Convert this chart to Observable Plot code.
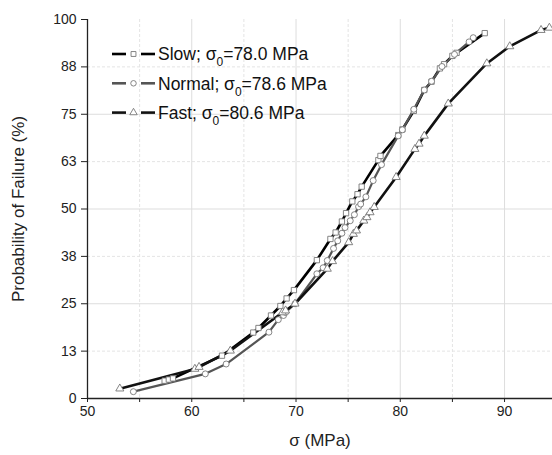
<!DOCTYPE html>
<html><head><meta charset="utf-8">
<script src="https://cdn.jsdelivr.net/npm/d3@7"></script>
<script src="https://cdn.jsdelivr.net/npm/@observablehq/plot@0.6"></script>
<style>
body{margin:0;background:#fff;font-family:"Liberation Sans",Arial,sans-serif;}
#wrap{position:relative;width:552px;height:455px;overflow:hidden;}
#wrap svg.legend{position:absolute;left:0;top:0;}
</style></head><body><div id="wrap"></div>
<script>
// Slow
const slowX = [57.4, 57.8, 58.2, 62.9, 65.9, 66.4, 67.6, 68.5, 69.1, 69.8, 72.0, 73.3, 73.8, 74.4, 74.8, 75.4, 75.9, 76.3, 77.9, 78.1, 79.8, 80.2, 81.3, 82.3, 83.0, 83.8, 84.2, 85.0, 85.4, 88.1];
const slowP = [4.7, 5.0, 5.3, 11.3, 17.4, 18.6, 21.9, 24.4, 26.4, 28.6, 36.5, 42.1, 43.8, 46.7, 48.9, 52.0, 53.9, 55.9, 62.9, 64.0, 69.5, 71.0, 75.9, 81.4, 83.6, 87.1, 88.2, 90.4, 91.2, 96.4];
// Normal
const normalX = [54.4, 61.3, 63.3, 67.4, 68.3, 68.8, 69.0, 69.9, 72.0, 72.6, 73.0, 73.6, 74.0, 74.4, 74.7, 75.2, 75.6, 76.0, 76.2, 76.7, 77.4, 78.2, 79.8, 80.2, 81.3, 82.3, 83.0, 84.0, 85.2, 86.6, 87.0];
const normalP = [1.8, 6.5, 9.1, 17.5, 20.8, 21.9, 22.7, 25.0, 32.9, 34.5, 36.4, 39.6, 41.6, 43.6, 45.1, 46.9, 48.5, 50.6, 51.3, 53.2, 57.5, 61.7, 69.3, 70.9, 76.3, 81.4, 83.7, 87.6, 90.8, 94.1, 95.2];
// Fast
const fastX = [53.1, 60.3, 60.7, 63.7, 68.7, 69.0, 69.9, 73.0, 73.5, 75.05, 75.5, 75.8, 76.5, 76.8, 77.1, 77.5, 79.6, 81.4, 81.8, 82.3, 84.6, 88.3, 90.5, 93.5, 94.3];
const fastP = [2.6, 7.8, 8.3, 12.6, 22.7, 23.2, 25.0, 34.2, 36.2, 41.2, 43.4, 44.3, 46.9, 47.8, 49.1, 50.5, 58.4, 65.8, 67.2, 69.3, 77.8, 88.4, 92.9, 97.2, 97.8];

const seriesNames = ["Slow", "Normal", "Fast"];
const sigma0 = ["78.0", "78.6", "80.6"];
const xMajor = [50, 60, 70, 80, 90];
const xMinor = [55, 65, 75, 85];
const yMajor = [0, 25, 50, 75, 100];
const yMinor = [12.5, 37.5, 62.5, 87.5];
const yTicks = [0, 12.5, 25, 37.5, 50, 62.5, 75, 87.5, 100];
const xLabel = "σ (MPa)";
const yLabel = "Probability of Failure (%)";

const styles = {
  Slow: {stroke: "#000", width: 2.6, symbol: "square"},
  Normal: {stroke: "#555", width: 2.2, symbol: "circle"},
  Fast: {stroke: "#111", width: 2.6, symbol: "triangle"}
};
const mk = (xs, ps, s) => xs.map((x, i) => ({x, p: ps[i], s}));
const series = {
  Slow: mk(slowX, slowP, "Slow"),
  Normal: mk(normalX, normalP, "Normal"),
  Fast: mk(fastX, fastP, "Fast")
};

const lines = seriesNames.map(n => Plot.line(series[n], {x: "x", y: "p", stroke: styles[n].stroke, strokeWidth: styles[n].width}));
const dots = seriesNames.map(n => Plot.dot(series[n], {x: "x", y: "p", symbol: () => styles[n].symbol, r: 3, fill: "white", stroke: "#777", strokeWidth: 0.9}));

const chart = Plot.plot({
  width: 552, height: 455,
  marginLeft: 87, marginRight: 0, marginTop: 19, marginBottom: 57,
  style: {fontFamily: '"Liberation Sans", Arial, sans-serif', color: "#222", background: "#fff"},
  x: {domain: [50, 94.6]},
  y: {domain: [0, 100]},
  symbol: {type: "identity"},
  marks: [
    Plot.gridX(xMinor, {stroke: "#e4e4e4", strokeOpacity: 1, strokeDasharray: "3,2"}),
    Plot.gridY(yMinor, {stroke: "#e4e4e4", strokeOpacity: 1, strokeDasharray: "3,2"}),
    Plot.gridX(xMajor.slice(1), {stroke: "#dddddd", strokeOpacity: 1}),
    Plot.gridY(yMajor.slice(1, 4), {stroke: "#dddddd", strokeOpacity: 1}),
    Plot.axisX({ticks: [...xMajor, ...xMinor], tickFormat: d => (d % 10 === 0 ? d : ""), tickSize: 4, tickPadding: 4, fontSize: 14, label: null, stroke: "#222"}),
    Plot.axisY({ticks: yTicks, tickFormat: d => Math.round(d), tickSize: 6, tickPadding: 5, fontSize: 14, label: null, stroke: "#222"}),
    Plot.ruleX([50], {stroke: "#222", strokeWidth: 1.3}),
    Plot.ruleY([0], {stroke: "#222", strokeWidth: 1.3}),
    ...lines,
    ...dots,
    Plot.text([xLabel], {frameAnchor: "bottom", dy: 47, fontSize: 17, fill: "#222"}),
    Plot.text([yLabel], {frameAnchor: "left", dx: -69, rotate: -90, textAnchor: "middle", fontSize: 17, fill: "#222"})
  ]
});
const wrap = document.getElementById("wrap");
wrap.appendChild(chart);

// Legend
const leg = d3.select(wrap).append("svg").attr("class", "legend").attr("width", 552).attr("height", 455);
const sym = {square: d3.symbolSquare, circle: d3.symbolCircle, triangle: d3.symbolTriangle};
seriesNames.forEach((n, i) => {
  const cy = 54 + i * 29.3;
  const g = leg.append("g");
  g.append("line").attr("x1", 112).attr("x2", 126).attr("y1", cy).attr("y2", cy).attr("stroke", styles[n].stroke).attr("stroke-width", 2.6);
  g.append("line").attr("x1", 141).attr("x2", 155).attr("y1", cy).attr("y2", cy).attr("stroke", styles[n].stroke).attr("stroke-width", 2.6);
  g.append("path").attr("d", d3.symbol(sym[styles[n].symbol], 24)()).attr("transform", `translate(133.5,${cy})`).attr("fill", "white").attr("stroke", "#777").attr("stroke-width", 0.9);
  const t = g.append("text").attr("x", 158).attr("y", cy + 6.2).attr("font-size", 17.5).attr("fill", "#111")
    .attr("font-family", '"Liberation Sans", Arial, sans-serif');
  t.append("tspan").text(n + "; σ");
  t.append("tspan").attr("dy", 6).attr("font-size", 12).text("0");
  t.append("tspan").attr("dy", -6).text("=" + sigma0[i] + " MPa");
});
</script></body></html>
